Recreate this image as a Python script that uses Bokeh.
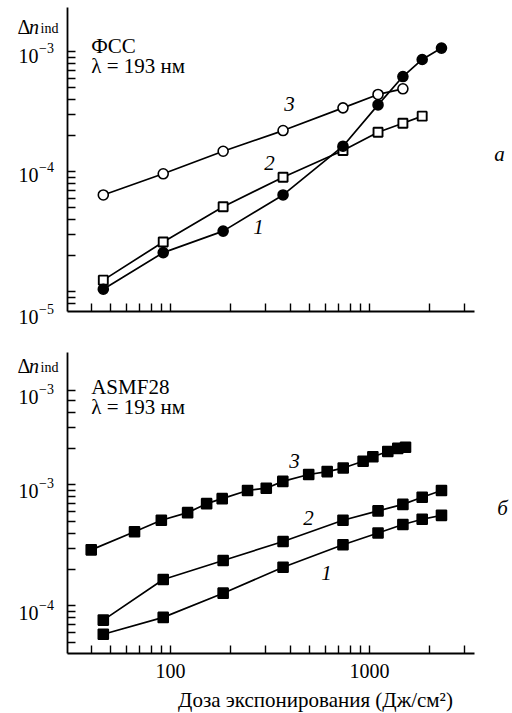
import math
from bokeh.plotting import figure
from bokeh.layouts import column
from bokeh.models import Range1d, FixedTicker, Label
from bokeh.embed import file_html
from bokeh.resources import INLINE

# ---- data ----
dose_fcc_1 = [46, 92, 184, 368, 736, 1104, 1472, 1840, 2300]
dn_fcc_1 = [1.05e-5, 2.12e-5, 3.2e-5, 6.4e-5, 1.63e-4, 3.6e-4, 6.2e-4, 8.6e-4, 1.07e-3]
dose_fcc_2 = [46, 92, 184, 368, 736, 1104, 1472, 1840]
dn_fcc_2 = [1.25e-5, 2.6e-5, 5.1e-5, 9.0e-5, 1.5e-4, 2.13e-4, 2.53e-4, 2.9e-4]
dose_fcc_3 = [46, 92, 184, 368, 736, 1104, 1472]
dn_fcc_3 = [6.4e-5, 9.6e-5, 1.48e-4, 2.2e-4, 3.4e-4, 4.4e-4, 4.9e-4]

dose_asm_3 = [40, 66, 90, 122, 152, 182, 244, 303, 367, 495, 613, 738, 929, 1040, 1236, 1388, 1517]
dn_asm_3 = [2.9e-4, 4.1e-4, 5.1e-4, 5.9e-4, 7.0e-4, 7.7e-4, 9.0e-4, 9.4e-4, 1.07e-3, 1.22e-3,
            1.29e-3, 1.38e-3, 1.57e-3, 1.71e-3, 1.89e-3, 2.01e-3, 2.05e-3]
dose_asm_2 = [46, 92, 184, 368, 736, 1104, 1472, 1840, 2300]
dn_asm_2 = [7.6e-5, 1.65e-4, 2.37e-4, 3.4e-4, 5.1e-4, 6.1e-4, 6.9e-4, 7.9e-4, 9.0e-4]
dose_asm_1 = [46, 92, 184, 368, 736, 1104, 1472, 1840, 2300]
dn_asm_1 = [5.8e-5, 8.0e-5, 1.27e-4, 2.08e-4, 3.2e-4, 4.0e-4, 4.7e-4, 5.2e-4, 5.6e-4]

x_bounds = (30.4, 3370)
x_major = [100, 1000]
x_minor = [40, 50, 60, 70, 80, 90, 100, 200, 300, 400, 500, 600, 700, 800, 900, 1000, 2000, 3000]
x_labels = {100: "100", 1000: "1000"}

top_y_bounds = (6.85e-6, 2.33e-3)
top_y_minor = [8e-6, 9e-6, 1e-5, 2e-5, 3e-5, 4e-5, 5e-5, 6e-5, 7e-5, 8e-5, 9e-5,
               1e-4, 2e-4, 3e-4, 4e-4, 5e-4, 6e-4, 7e-4, 8e-4, 9e-4, 1e-3]
top_y_exps = ["−3", "−4", "−5"]

bot_y_bounds = (4.02e-5, 1.25e-2)
bot_y_minor = [5e-5, 6e-5, 7e-5, 8e-5, 9e-5, 1e-4, 2e-4, 3e-4, 4e-4, 5e-4, 6e-4, 7e-4, 8e-4, 9e-4,
               1e-3, 2e-3, 3e-3, 4e-3, 5e-3, 6e-3]
bot_y_exps = ["−3", "−3", "−4"]

FONT = "Liberation Serif"
FS = "20px"
FS_TXT = "21px"
W = 512
AX_L, AX_R = 67, 474   # page x of the axis box


class Panel:
    """Figure whose frame is the whole canvas; axes are drawn at fixed locations."""

    def __init__(self, page_top, height, ax_top, ax_bot, ybounds, ymin, xlabels):
        self.page_top = page_top
        self.ax_bot = ax_bot
        self.kx = (AX_R - AX_L) / math.log10(x_bounds[1] / x_bounds[0])
        self.ky = (ax_bot - ax_top) / math.log10(ybounds[1] / ybounds[0])
        self.ylo = ybounds[0]
        xr = Range1d(self.px2x(0), self.px2x(W))
        yr = Range1d(self.py2y(page_top + height), self.py2y(page_top))
        p = figure(width=W, height=height, x_axis_type="log", y_axis_type="log",
                   x_range=xr, y_range=yr, output_backend="svg", toolbar_location=None,
                   min_border=0)
        p.outline_line_color = None
        p.grid.visible = False
        p.background_fill_color = "white"
        xa, ya = p.xaxis[0], p.yaxis[0]
        xa.fixed_location = ybounds[0]
        xa.bounds = x_bounds
        ya.fixed_location = x_bounds[0]
        ya.bounds = ybounds
        for ax in (xa, ya):
            ax.axis_line_color = "black"
            ax.axis_line_width = 1.8
            ax.major_tick_line_color = None
            ax.major_tick_in = 0
            ax.major_tick_out = 0
            ax.minor_tick_line_color = "black"
            ax.minor_tick_line_width = 1.4
            ax.minor_tick_in = 8
            ax.minor_tick_out = 0
            ax.major_label_text_font = FONT
            ax.major_label_text_color = "black"
            ax.major_label_text_font_size = FS
        ya.ticker = FixedTicker(ticks=[], minor_ticks=ymin)
        if xlabels:
            xa.ticker = FixedTicker(ticks=x_major, minor_ticks=x_minor)
            xa.major_label_overrides = x_labels
            xa.major_label_standoff = 10
        else:
            xa.ticker = FixedTicker(ticks=[], minor_ticks=x_minor)
        self.p = p

    def px2x(self, px):
        return x_bounds[0] * 10 ** ((px - AX_L) / self.kx)

    def py2y(self, py):
        return self.ylo * 10 ** ((self.ax_bot - py) / self.ky)

    def series(self, x, y, marker, filled, size, lw=1.6):
        self.p.line(x, y, line_color="black", line_width=1.7)
        self.p.scatter(x, y, marker=marker, size=size, line_color="black", line_width=lw,
                       fill_color="black" if filled else "white")

    def lab(self, px, py, text, size=FS, style="normal", align="left", baseline="alphabetic"):
        self.p.add_layout(Label(x=self.px2x(px), y=self.py2y(py), text=text, text_font=FONT,
                                text_font_size=size, text_font_style=style, text_align=align,
                                text_baseline=baseline, text_color="black"))

    def ylabels(self, baselines, exps):
        for b, e in zip(baselines, exps):
            self.lab(38, b, "10", align="right")
            self.lab(38.5, b - 8, e, size="14px")

    def dn_label(self, base):
        self.lab(17, base, "Δ")
        self.lab(28.5, base, "n", style="italic")
        self.lab(40, base + 2, "ind", size="14px")

    def num(self, px, py, text):
        self.lab(px, py, text, size=FS_TXT, style="italic", align="center", baseline="middle")


# ---- top panel (ФСС) ----
a = Panel(0, 331, 7, 311, top_y_bounds, top_y_minor, False)
a.series(dose_fcc_3, dn_fcc_3, "circle", False, 10)
a.series(dose_fcc_2, dn_fcc_2, "square", False, 9, lw=1.9)
a.series(dose_fcc_1, dn_fcc_1, "circle", True, 10)
a.dn_label(26)
a.ylabels([55, 174, 316.5], top_y_exps)
a.lab(90.7, 45, "ФСС", size=FS_TXT)
a.lab(90.7, 65.7, "λ = 193 нм", size=FS_TXT)
a.num(289, 103, "3")
a.num(269, 162, "2")
a.num(258, 226, "1")
a.num(499, 153, "а")

# ---- bottom panel (ASMF28) ----
b = Panel(331, 382, 352, 653, bot_y_bounds, bot_y_minor, True)
b.series(dose_asm_3, dn_asm_3, "square", True, 10)
b.series(dose_asm_2, dn_asm_2, "square", True, 10)
b.series(dose_asm_1, dn_asm_1, "square", True, 10)
b.dn_label(365)
b.ylabels([396.5, 490, 612], bot_y_exps)
b.lab(90.7, 386.7, "ASMF28", size=FS_TXT)
b.lab(90.7, 406, "λ = 193 нм", size=FS_TXT)
b.num(294, 460, "3")
b.num(308, 517, "2")
b.num(326, 572, "1")
b.num(502, 507, "б")
b.lab(315, 699, "Доза экспонирования (Дж/см²)", size=FS_TXT, align="center")

layout = column(a.p, b.p)
open("out.html", "w").write(file_html(layout, INLINE))
